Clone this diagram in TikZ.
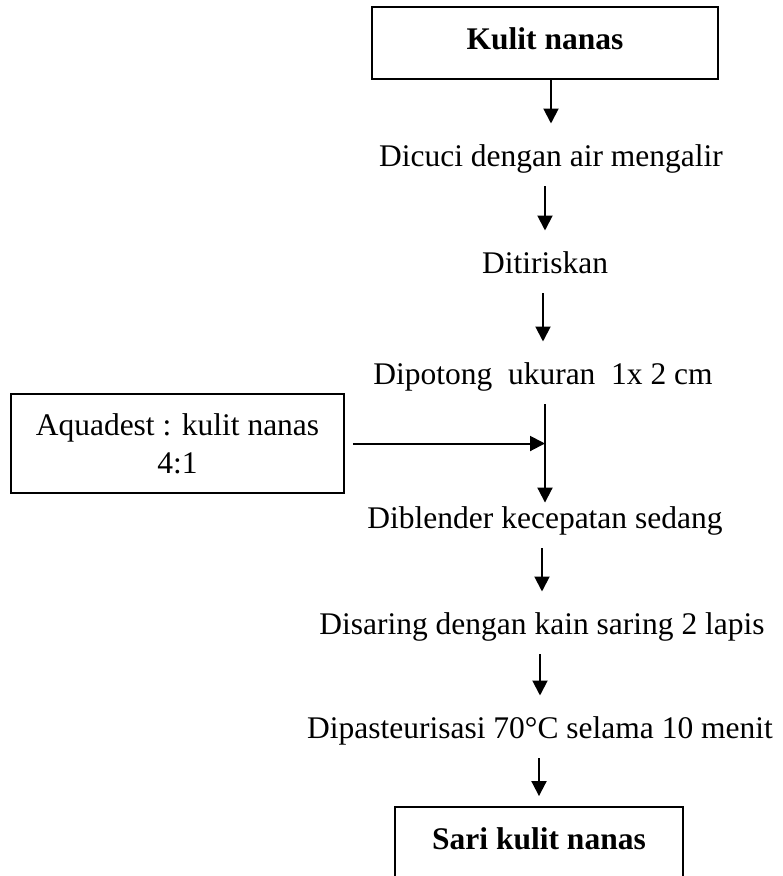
\documentclass[12pt,tikz,border=0pt]{standalone}
\usepackage{fontspec}
\setmainfont{Liberation Serif}
\usepackage{tikz}
\usetikzlibrary{arrows.meta}
\tikzset{
    flowbox/.style={draw, line width=0.76pt, align=center, inner sep=0pt},
    flowstep/.style={anchor=base, inner xsep=0pt, inner ysep=7.6pt, text height=0.7em, text depth=0pt},
    flowarrow/.style={->, line width=0.76pt},
}

\begin{document}
\begin{tikzpicture}[x=0.381pt, y=-0.381pt, >={Triangle[length=5.7pt, width=5.7pt]}]
    \useasboundingbox (0,0) rectangle (782,876);
    \node[flowbox, font=\bfseries, text depth=0.3em, minimum width=131.8pt, minimum height=27.4pt] (kulit) at (545,43) {Kulit nanas};
    \node[flowstep] (cuci) at (551,166) {Dicuci dengan air mengalir};
    \node[flowstep] (tiris) at (545,273) {Ditiriskan};
    \node[flowstep] (potong) at (543,384) {Dipotong\ \ ukuran\ \ 1x 2 cm};
    \node[flowbox, minimum width=126.9pt, minimum height=37.7pt] (aqua) at (177.5,443.5) {Aquadest : kulit nanas\\4:1};
    \node[flowstep] (blender) at (545,528) {Diblender kecepatan sedang};
    \node[flowstep] (saring) at (542,634) {Disaring dengan kain saring 2 lapis};
    \node[flowstep] (pasteur) at (540,738) {Dipasteurisasi 70\textdegree C selama 10 menit};
    \node[flowbox, font=\bfseries, text depth=0.3em, minimum width=109.7pt, minimum height=27.8pt] (sari) at (539,843.5) {Sari kulit nanas};

    \draw[flowarrow] (cuci.north |- kulit.south) -- (cuci.north);
    \draw[flowarrow] (tiris.north |- cuci.south) -- (tiris.north);
    \draw[flowarrow] (potong.north |- tiris.south) -- (potong.north);
    \draw[flowarrow, shorten >=-6.5pt] (blender.north |- potong.south) -- (blender.north);
    \draw[flowarrow, shorten <=3pt] (aqua.east) -- (aqua.east -| blender.north);
    \draw[flowarrow] (saring.north |- blender.south) -- (saring.north);
    \draw[flowarrow] (pasteur.north |- saring.south) -- (pasteur.north);
    \draw[flowarrow, shorten >=3.8pt] (sari.north |- pasteur.south) -- (sari.north);
\end{tikzpicture}
\end{document}
